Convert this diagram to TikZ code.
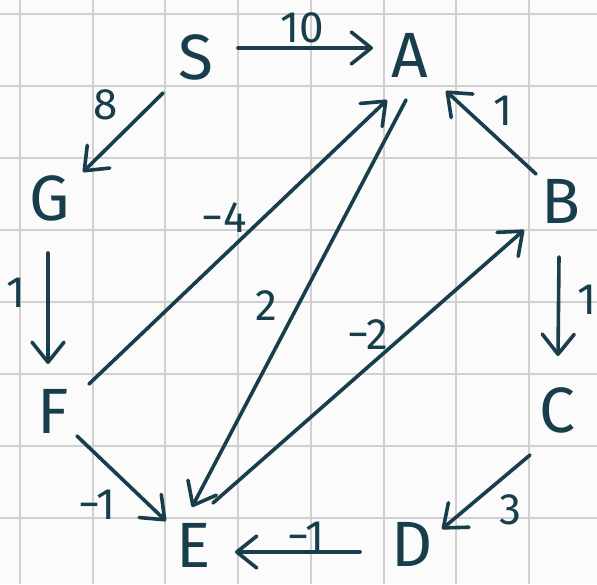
\documentclass[tikz,border=0pt]{standalone}
\usepackage{fontspec}
\setmainfont{Fira Sans}
\usetikzlibrary{arrows.meta,calc}
\definecolor{ink}{RGB}{24,62,76}
\definecolor{gridc}{RGB}{208,208,208}
\definecolor{paper}{RGB}{251,251,251}
\tikzset{
  vertex/.style={text=ink,font=\fontsize{64}{64}\selectfont,inner sep=0pt},
  wlabel/.style={text=ink,font=\fontsize{44}{44}\selectfont,inner sep=0pt},
  arr/.style={draw=ink,line width=3.6pt,line cap=round,
    -{Straight Barb[length=20pt,width=32pt,line cap=round,line join=round]}},
}
\begin{document}
\begin{tikzpicture}[x=1pt,y=-1pt]
\fill[paper] (0,0) rectangle (597,584);
\useasboundingbox (0,0) rectangle (597,584);
\foreach \i in {0,...,7} {
  \draw[gridc,line width=2pt] ({20+72.7*\i},0) -- ({20+72.7*\i},584);
  \draw[gridc,line width=2pt] (0,{14+72*\i}) -- (597,{14+72*\i});
}
\node[vertex] (S) at (196,57) {S};
\node[vertex] (A) at (410,55) {A};
\node[vertex] (B) at (561,201) {B};
\node[vertex] (G) at (50,198) {G};
\node[vertex] (F) at (53,411) {F};
\node[vertex] (E) at (194,545) {E};
\node[vertex] (C) at (557,410) {C};
\node[vertex] (D) at (412,544) {D};

\draw[arr] ($(S)+(42,-9)$) -- ($(A)+(-37,-7)$);
\draw[arr] ($(S)+(-33,36)$) -- ($(G)+(33,-26)$);
\draw[arr] ($(B)+(-25,-27)$) -- ($(A)+(36,36)$);
\draw[arr] ($(F)+(36,-27)$) -- ($(A)+(-23,45)$);
\draw[arr] ($(A)+(-4,45)$) -- ($(E)+(-2,-38)$);
\draw[arr] ($(E)+(19,-42)$) -- ($(B)+(-37,29)$);
\draw[arr] ($(G)+(-2,55)$) -- ($(F)+(-5,-47)$);
\draw[arr] ($(B)+(-2,56)$) -- ($(C)+(1,-54)$);
\draw[arr] ($(F)+(24,25)$) -- ($(E)+(-28,-24)$);
\draw[arr] ($(C)+(-27,45)$) -- ($(D)+(30,-15)$);
\draw[arr] ($(D)+(-52,8)$) -- ($(E)+(41,7)$);

\node[wlabel] (l1) at (302,28) {10};
\node[wlabel] (l2) at (106,105) {8};
\node[wlabel] (l3) at (503,111) {1};
\node[wlabel] (l4) at (224,218) {−4};
\node[wlabel] (l5) at (266,306) {2};
\node[wlabel] (l6) at (368,335) {−2};
\node[wlabel] (l7) at (16,293) {1};
\node[wlabel] (l8) at (587,300) {1};
\node[wlabel] (l9) at (97,505) {−1};
\node[wlabel] (l10) at (510,510) {3};
\node[wlabel] (l11) at (306,537) {−1};
\end{tikzpicture}
\end{document}
